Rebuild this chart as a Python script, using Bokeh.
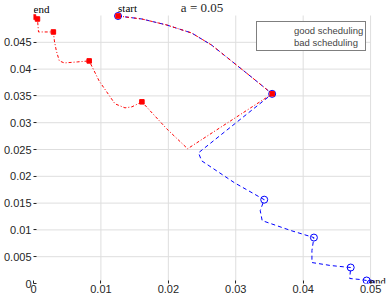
from bokeh.plotting import figure
from bokeh.models import Range1d, FixedTicker, Legend, LegendItem
from bokeh.core.properties import value
from bokeh.embed import file_html
from bokeh.resources import INLINE

# shared first segment (start -> turning point)
common_x = [0.01254, 0.01608, 0.01976, 0.02345, 0.0264, 0.02935, 0.0323, 0.0354]
common_y = [0.04991, 0.04935, 0.04823, 0.04674, 0.0445, 0.04153, 0.03855, 0.03538]

# bad scheduling (red) continuation
bad_x = [0.02286, 0.01976, 0.01608, 0.0146, 0.01357, 0.01209, 0.00973, 0.00826,
         0.00649, 0.00457, 0.00383, 0.00339, 0.0031, 0.00295, 0.00074, 0.00059, 0.0]
bad_y = [0.02514, 0.02886, 0.03389, 0.03296, 0.03277, 0.03352, 0.0378, 0.04153,
         0.04134, 0.04115, 0.04153, 0.04339, 0.04525, 0.04693, 0.04693, 0.04935, 0.04972]
bad_mx = [0.01254, 0.0354, 0.01608, 0.00826, 0.00295, 0.00059, 0.0]
bad_my = [0.04991, 0.03538, 0.03389, 0.04153, 0.04693, 0.04935, 0.04972]

# good scheduling (blue) continuation
good_x = [0.02448, 0.02493, 0.02979, 0.03422, 0.03363, 0.03392, 0.0382, 0.04159,
          0.0413, 0.0413, 0.0441, 0.04705, 0.0469, 0.04853, 0.04941, 0.05]
good_y = [0.02439, 0.0229, 0.01881, 0.01564, 0.01359, 0.01173, 0.00987, 0.00857,
          0.00615, 0.00391, 0.00335, 0.00298, 0.00093, 0.00074, 0.00056, 0.0]
good_mx = [0.01254, 0.0354, 0.03422, 0.04159, 0.04705, 0.04941, 0.05]
good_my = [0.04991, 0.03538, 0.01564, 0.00857, 0.00298, 0.00056, 0.0]

x_ticks = [0, 0.01, 0.02, 0.03, 0.04, 0.05]
x_labels = ["0", "0.01", "0.02", "0.03", "0.04", "0.05"]
y_ticks = [0, 0.005, 0.01, 0.015, 0.02, 0.025, 0.03, 0.035, 0.04, 0.045]
y_labels = ["0", "0.005", "0.01", "0.015", "0.02", "0.025", "0.03", "0.035", "0.04", "0.045"]
x_max = 0.05
y_max = 0.05
series_names = ["good scheduling", "bad scheduling"]
title_text = "a = 0.05"

p = figure(width=386, height=298, output_backend="svg", toolbar_location=None,
           x_range=Range1d(0, 0.05236), y_range=Range1d(0, 0.0528),
           min_border_left=30, min_border_right=0, min_border_top=0, min_border_bottom=15)
p.outline_line_color = None
p.background_fill_color = "white"
p.grid.visible = False

for ax, ticks, labels in ((p.xaxis[0], x_ticks, x_labels), (p.yaxis[0], y_ticks, y_labels)):
    ax.ticker = FixedTicker(ticks=ticks)
    ax.major_label_overrides = {t: l for t, l in zip(ticks, labels)}
    ax.axis_line_color = None
    ax.major_tick_in = 3
    ax.major_tick_out = 0
    ax.major_tick_line_color = "#262626"
    ax.minor_tick_line_color = None
    ax.major_label_text_font = "Liberation Sans"
    ax.major_label_text_font_size = "11px"
    ax.major_label_text_color = "#262626"
    ax.major_label_standoff = 2
p.xaxis[0].major_label_standoff = 1

# grid lines limited to the axes box
gx = x_ticks[1:]
p.segment(x0=gx, y0=[0] * len(gx), x1=gx, y1=[y_max] * len(gx),
          line_color="#dedede", line_width=1, level="underlay")
gy = y_ticks[1:]
p.segment(x0=[0] * len(gy), y0=gy, x1=[x_max] * len(gy), y1=gy,
          line_color="#dedede", line_width=1, level="underlay")

# good scheduling (blue dashed)
p.line(common_x + good_x, common_y + good_y, line_color="blue", line_dash="4 3", line_width=1)
# bad scheduling (red dash-dot)
p.line(common_x + bad_x, common_y + bad_y, line_color="red", line_dash="3 2 1 2", line_width=1)

p.scatter(good_mx, good_my, marker="circle", size=7, fill_color=None, line_color="blue", line_width=1)
p.scatter(bad_mx, bad_my, marker="square", size=4.5, fill_color="red", line_color="red")

# invisible renderers for legend entries (legend shows text only)
r_good = p.line([0.0], [0.0], line_alpha=0)
r_bad = p.line([0.0], [0.0], line_alpha=0)
legend = Legend(items=[LegendItem(label=series_names[0], renderers=[r_good]),
                       LegendItem(label=series_names[1], renderers=[r_bad])],
                location=(223, 232), glyph_width=30, glyph_height=12, label_height=12,
                label_standoff=5, spacing=0, padding=2, margin=0,
                label_text_font="Liberation Sans", label_text_font_size="9.5px",
                border_line_color="black", border_line_width=1,
                background_fill_color="white", background_fill_alpha=1)
p.add_layout(legend, "center")

serif = value("Liberation Serif")
p.text(x=[x_max / 2], y=[y_max], text=[title_text], text_align="center", text_baseline="alphabetic",
       y_offset=-8, text_font=serif, text_font_size="13px", text_color="#262626")
p.text(x=[bad_mx[-1], bad_mx[0]], y=[bad_my[-1], bad_my[0]], text=["end", "start"],
       text_align="left", text_baseline="alphabetic", y_offset=-8,
       text_font=serif, text_font_size="11px", text_color="black")
p.text(x=[good_mx[-1]], y=[good_my[-1]], text=["end"], text_align="left", text_baseline="alphabetic",
       x_offset=0, y_offset=-2, text_font=serif, text_font_size="10.5px", text_color="black")

open("out.html", "w").write(file_html(p, INLINE))
